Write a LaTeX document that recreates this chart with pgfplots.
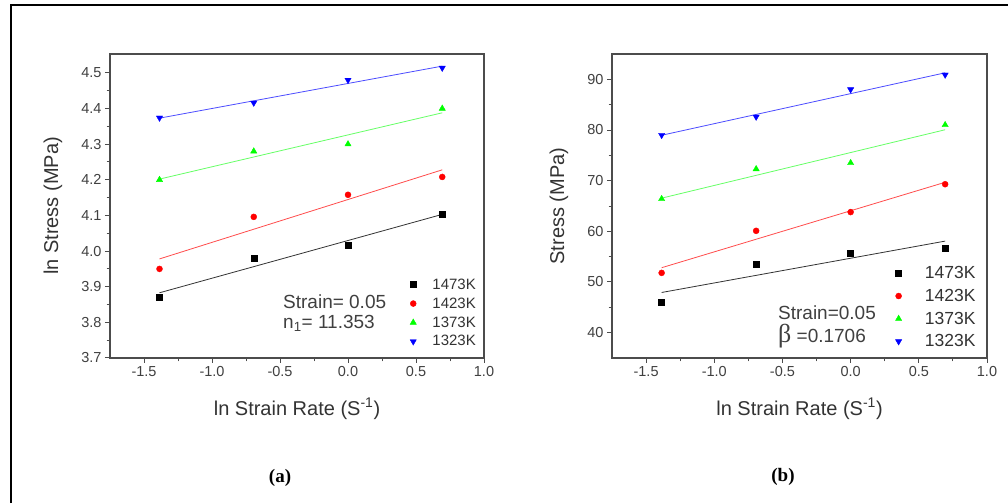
\documentclass[border=0pt]{standalone}
\usepackage{pgfplots}
\pgfplotsset{compat=1.18}
\usepackage{fontspec}
\setmainfont{Liberation Sans}
\newfontfamily\serif{Liberation Serif}

\pgfplotsset{
 myax/.style={
  width=374pt, height=304pt, scale only axis,
  xmin=-1.75, xmax=1.0,
  xtick={-1.5,-1.0,-0.5,0,0.5,1.0},
  minor x tick num=1, minor y tick num=1,
  tick pos=left, tick align=outside,
  major tick length=5pt, minor tick length=3.5pt,
  axis line style={black!70, line width=1.3pt},
  every tick/.style={black!70, line width=1pt},
  ticklabel style={font=\fontsize{14.5}{16}\selectfont, text=black!75},
  /pgf/number format/assume math mode=true,
  xticklabel style={/pgf/number format/.cd, fixed, fixed zerofill, precision=1},
  label style={font=\fontsize{20}{24}\selectfont, text=black!80},
  xlabel style={at={(rel axis cs:0.5,0)}, anchor=center, yshift=-51pt},
  xlabel={ln Strain Rate (S\textsuperscript{-1})},
  legend cell align=left,
  fitline/.style={line width=0.8pt, no marks, forget plot},
  pts/.style={only marks, mark size=3pt},
  tri/.style={mark size=3.6pt},
 }
}

\begin{document}
\begin{tikzpicture}
\useasboundingbox (0pt,0pt) rectangle (1008pt,503pt);
\fill[white] (0pt,0pt) rectangle (1008pt,503pt);
\draw[line width=2.2pt] (11pt,0pt) -- (11pt,498pt) -- (1008pt,498pt);

% ---------------- (a)
\begin{axis}[myax, at={(110pt,145pt)}, anchor=south west,
  ymin=3.7, ymax=4.553,
  ytick={3.7,3.8,3.9,4.0,4.1,4.2,4.3,4.4,4.5},
  yticklabel style={/pgf/number format/.cd, fixed, fixed zerofill, precision=1},
  ylabel={ln Stress (MPa)},
  ylabel style={at={(rel axis cs:0,0.5)}, anchor=center, yshift=57pt},
  legend style={at={(0.992,0.275)}, anchor=north east, draw=none, fill=none,
    font=\fontsize{15}{17}\selectfont, text=black!80, row sep=3pt},
  legend image code/.code={\path (0pt,0pt) (23pt,0pt); \draw[#1] plot coordinates {(6pt,0pt)};},
]
\addplot[fitline, black!80] coordinates {(-1.386,3.883) (0.693,4.103)};
\addplot[fitline, red!70] coordinates {(-1.386,3.978) (0.693,4.228)};
\addplot[fitline, green!60] coordinates {(-1.386,4.202) (0.693,4.388)};
\addplot[fitline, blue!70] coordinates {(-1.386,4.373) (0.693,4.519)};
\addplot[pts, mark=square*, black] coordinates {(-1.386,3.871) (-0.693,3.980) (0,4.017) (0.693,4.104)};
\addlegendentry{1473K}
\addplot[pts, mark=*, red] coordinates {(-1.386,3.950) (-0.693,4.096) (0,4.158) (0.693,4.208)};
\addlegendentry{1423K}
\addplot[pts, tri, mark=triangle*, green] coordinates {(-1.386,4.200) (-0.693,4.280) (0,4.300) (0.693,4.400)};
\addlegendentry{1373K}
\addplot[pts, tri, mark=triangle*, mark options={rotate=180}, blue] coordinates {(-1.386,4.374) (-0.693,4.416) (0,4.480) (0.693,4.514)};
\addlegendentry{1323K}
\node[anchor=west, inner sep=0pt, font=\fontsize{19}{22}\selectfont, text=black!75] at (axis cs:-0.478,3.857) {Strain= 0.05};
\node[anchor=west, inner sep=0pt, font=\fontsize{19}{22}\selectfont, text=black!75] at (axis cs:-0.478,3.798) {n\textsubscript{1}= 11.353};
\end{axis}

% ---------------- (b)
\begin{axis}[myax, at={(612pt,145pt)}, anchor=south west, width=375pt,
  ymin=35, ymax=95,
  ytick={40,50,60,70,80,90},
  ylabel={Stress (MPa)},
  ylabel style={at={(rel axis cs:0,0.5)}, anchor=center, yshift=53pt},
  legend style={at={(0.983,0.315)}, anchor=north east, draw=none, fill=none,
    font=\fontsize{17.5}{19}\selectfont, text=black!80, row sep=5pt},
  legend image code/.code={\path (0pt,0pt) (29pt,0pt); \draw[#1] plot coordinates {(5pt,0pt)};},
]
\addplot[fitline, black!80] coordinates {(-1.386,47.93) (0.693,58.07)};
\addplot[fitline, red!70] coordinates {(-1.386,52.82) (0.693,69.68)};
\addplot[fitline, green!60] coordinates {(-1.386,66.55) (0.693,80.05)};
\addplot[fitline, blue!70] coordinates {(-1.386,78.96) (0.693,91.29)};
\addplot[pts, mark=square*, black] coordinates {(-1.386,46.1) (-0.693,53.6) (0,55.6) (0.693,56.7)};
\addlegendentry{1473K}
\addplot[pts, mark=*, red] coordinates {(-1.386,51.8) (-0.693,60.1) (0,63.8) (0.693,69.3)};
\addlegendentry{1423K}
\addplot[pts, tri, mark=triangle*, green] coordinates {(-1.386,66.4) (-0.693,72.3) (0,73.5) (0.693,81.0)};
\addlegendentry{1373K}
\addplot[pts, tri, mark=triangle*, mark options={rotate=180}, blue] coordinates {(-1.386,79.0) (-0.693,82.6) (0,88.0) (0.693,90.9)};
\addlegendentry{1323K}
\node[anchor=west, inner sep=0pt, font=\fontsize{19}{22}\selectfont, text=black!75] at (axis cs:-0.533,43.9) {Strain=0.05};
\node[anchor=west, inner sep=0pt, font=\fontsize{19}{22}\selectfont, text=black!75] at (axis cs:-0.533,39.4) {{\serif\fontsize{26}{26}\selectfont β} =0.1706};
\end{axis}

\node[font=\serif\bfseries\fontsize{19}{22}\selectfont] at (280pt,25pt) {(a)};
\node[font=\serif\bfseries\fontsize{19}{22}\selectfont] at (783pt,26pt) {(b)};
\end{tikzpicture}
\end{document}
